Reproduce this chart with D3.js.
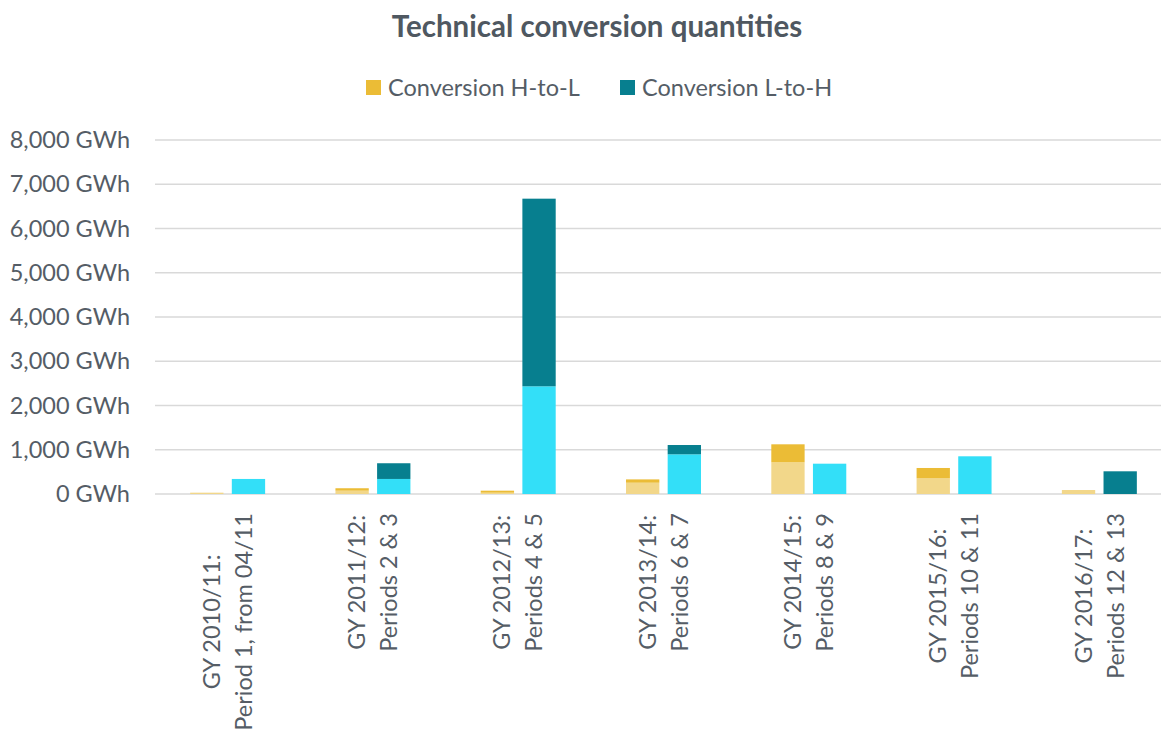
<!DOCTYPE html>
<head>
<meta charset="utf-8">
<title>Technical conversion quantities</title>
<style>
body {
  margin: 0;
  background: #fff;
  font-family: Lato, "Open Sans", sans-serif;
}
.grid line {
  stroke: #d9d9d9;
  stroke-width: 1.5;
}
.axis text, .xlab text, .legend text {
  fill: #555d66;
  font-family: Lato, "Open Sans", sans-serif;
  font-size: 23.5px;
}
.title {
  fill: #4f5861;
  font-family: Lato, "Open Sans", sans-serif;
  font-size: 29.5px;
  font-weight: bold;
}
</style>
<script src="https://d3js.org/d3.v7.min.js"></script>
</head>
<body>
<script>
// chart values (GWh)
var categories = [
  ["GY 2010/11:", "Period 1, from 04/11"],
  ["GY 2011/12:", "Periods 2 & 3"],
  ["GY 2012/13:", "Periods 4 & 5"],
  ["GY 2013/14:", "Periods 6 & 7"],
  ["GY 2014/15:", "Periods 8 & 9"],
  ["GY 2015/16:", "Periods 10 & 11"],
  ["GY 2016/17:", "Periods 12 & 13"]
];
var htolLower = [30, 75, 30, 255, 716, 354, 90];
var htolUpper = [0, 55, 45, 75, 407, 234, 0];
var ltohLower = [340, 340, 2434, 897, 685, 852, 0];
var ltohUpper = [0, 355, 4240, 210, 0, 0, 513];
var yTicks = [0, 1000, 2000, 3000, 4000, 5000, 6000, 7000, 8000];
var legendNames = ["Conversion H-to-L", "Conversion L-to-H"];

var width = 1161, height = 733;
var colors = {
  htol: ["#f2d78a", "#ebbc36"],
  ltoh: ["#33dff8", "#077f8f"]
};

var svg = d3.select("body").append("svg")
    .attr("width", width)
    .attr("height", height);

var keys = categories.map(function(c, i) { return i; });

var xScale = d3.scaleBand()
    .domain(keys)
    .range([155, 1172])
    .paddingInner(0.484)
    .paddingOuter(0.242);
var xSub = d3.scaleBand()
    .domain(["htol", "ltoh"])
    .range([0, xScale.bandwidth()])
    .paddingInner(0.2);
var yScale = d3.scaleLinear()
    .domain([0, 8000])
    .range([494, 140]);

// gridlines
svg.append("g")
    .attr("class", "grid")
    .selectAll("line")
    .data(yTicks)
    .enter().append("line")
    .attr("x1", 155)
    .attr("x2", width)
    .attr("y1", function(d) { return yScale(d); })
    .attr("y2", function(d) { return yScale(d); });

// y axis labels
var yAxis = d3.axisLeft(yScale)
    .tickValues(yTicks)
    .tickSize(0)
    .tickPadding(0)
    .tickFormat(function(d) { return d3.format(",")(d) + " GWh"; });
svg.append("g")
    .attr("class", "axis")
    .attr("transform", "translate(130,0)")
    .call(yAxis)
    .call(function(g) { g.select(".domain").remove(); });

// stacked bars
var rows = keys.map(function(i) {
  return { i: i, htol0: htolLower[i], htol1: htolUpper[i], ltoh0: ltohLower[i], ltoh1: ltohUpper[i] };
});
["htol", "ltoh"].forEach(function(s) {
  var stack = d3.stack().keys([s + "0", s + "1"])(rows);
  stack.forEach(function(layer, li) {
    svg.append("g")
        .attr("fill", colors[s][li])
        .selectAll("rect")
        .data(layer.filter(function(d) { return d[1] > d[0]; }))
        .enter().append("rect")
        .attr("x", function(d) { return xScale(d.data.i) + xSub(s); })
        .attr("width", xSub.bandwidth())
        .attr("y", function(d) { return yScale(d[1]); })
        .attr("height", function(d) { return yScale(d[0]) - yScale(d[1]); });
  });
});

// x labels, rotated, lines centred in a block that starts just under the axis
var xl = svg.append("g")
    .attr("class", "xlab")
    .selectAll("text")
    .data(keys)
    .enter().append("text")
    .attr("text-anchor", "middle");
xl.append("tspan")
    .attr("x", 0).attr("y", -16).attr("dy", "0.35em")
    .text(function(i) { return categories[i][0]; });
xl.append("tspan")
    .attr("x", 0).attr("y", 16).attr("dy", "0.35em")
    .text(function(i) { return categories[i][1]; });
xl.attr("transform", function(i) {
  var len = 0;
  d3.select(this).selectAll("tspan").each(function() {
    len = Math.max(len, this.getComputedTextLength());
  });
  return "translate(" + (xScale(i) + xScale.bandwidth() / 2) + "," + (513 + len / 2) + ") rotate(-90)";
});

// title
svg.append("text")
    .attr("class", "title")
    .attr("x", 597)
    .attr("y", 37)
    .attr("text-anchor", "middle")
    .text("Technical conversion quantities");

// legend
var legend = svg.append("g").attr("class", "legend");
var legX = [366, 620];
legendNames.forEach(function(name, k) {
  legend.append("rect")
      .attr("x", legX[k]).attr("y", 80)
      .attr("width", 15).attr("height", 15)
      .attr("fill", k === 0 ? colors.htol[1] : colors.ltoh[1]);
  legend.append("text")
      .attr("x", legX[k] + 22).attr("y", 96)
      .text(name);
});
</script>
</body>
